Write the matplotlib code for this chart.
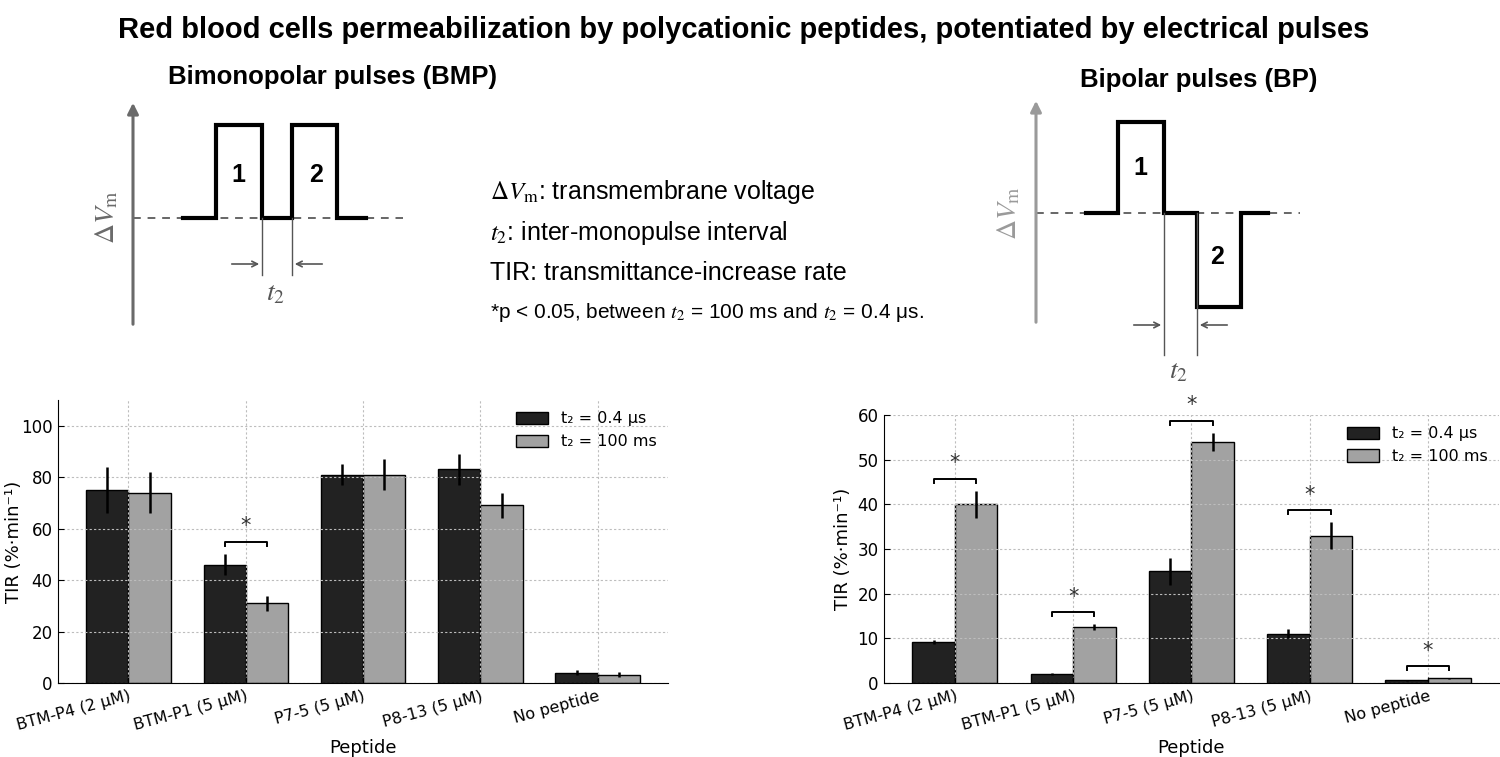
import numpy as np
import matplotlib.pyplot as plt

plt.rcParams['mathtext.fontset'] = 'stix'

# ---- data ----
peptides = ["BTM-P4 (2 μM)", "BTM-P1 (5 μM)", "P7-5 (5 μM)", "P8-13 (5 μM)", "No peptide"]
series_labels = ["t₂ = 0.4 μs", "t₂ = 100 ms"]

# bimonopolar pulses (BMP)
bmp_short = [75, 46, 81, 83, 4]
bmp_short_err = [9, 4, 4, 6, 1]
bmp_long = [74, 31, 81, 69, 3.2]
bmp_long_err = [8, 3, 6, 5, 0.9]
bmp_sig = [1]

# bipolar pulses (BP)
bp_short = [9.2, 2.0, 25, 11, 0.6]
bp_short_err = [0.5, 0.2, 3, 1, 0.1]
bp_long = [40, 12.5, 54, 33, 1.0]
bp_long_err = [3, 0.7, 2, 3, 0.1]
bp_sig = [0, 1, 2, 3, 4]

# schematic pulse shapes (pixel coords of the figure, y down)
bmp_wave_x = [183, 216, 216, 262, 262, 292, 292, 337, 337, 366]
bmp_wave_y = [218, 218, 125, 125, 218, 218, 125, 125, 218, 218]
bp_wave_x = [1086, 1118, 1118, 1164, 1164, 1197, 1197, 1241, 1241, 1268]
bp_wave_y = [213, 213, 122, 122, 213, 213, 307, 307, 213, 213]

dark = "#222222"
light = "#a2a2a2"
sans = "Liberation Sans"

fig = plt.figure(figsize=(15, 7.57), dpi=100)

# ---- top schematic, drawn in pixel coordinates ----
dg = fig.add_axes([0, 0, 1, 1])
dg.set_xlim(0, 1500)
dg.set_ylim(757, 0)
dg.axis("off")

fig.text(0.496, 0.96, "Red blood cells permeabilization by polycationic peptides, potentiated by electrical pulses",
         ha="center", va="center", fontsize=21, fontweight="bold", family=sans)


def pulse_diagram(xw, yw, axis_x, axis_top, axis_bot, base_y, base_end, gap_lo, gap_hi, line_bot,
                  arrow_y, lab1, lab2, t2_pos, dv_pos, axis_color):
    dg.annotate("", xy=(axis_x, axis_top), xytext=(axis_x, axis_bot),
                arrowprops=dict(arrowstyle="-|>", color=axis_color, lw=2.2, mutation_scale=16))
    dg.plot([axis_x, base_end], [base_y, base_y], color="#666666", lw=1.4, linestyle=(0, (4, 3.5)))
    dg.plot(xw, yw, color="black", lw=3, solid_joinstyle="miter")
    for gx in (gap_lo, gap_hi):
        dg.plot([gx, gx], [base_y, line_bot], color="#555555", lw=1)
    dg.annotate("", xy=(gap_lo, arrow_y), xytext=(gap_lo - 33, arrow_y),
                arrowprops=dict(arrowstyle="->", color="#555555", lw=1.2))
    dg.annotate("", xy=(gap_hi, arrow_y), xytext=(gap_hi + 33, arrow_y),
                arrowprops=dict(arrowstyle="->", color="#555555", lw=1.2))
    dg.text(lab1[0], lab1[1], "1", ha="center", va="center", fontsize=18, fontweight="bold", family=sans)
    dg.text(lab2[0], lab2[1], "2", ha="center", va="center", fontsize=18, fontweight="bold", family=sans)
    dg.text(t2_pos[0], t2_pos[1], r"$t_2$", ha="center", va="center", fontsize=20, color="#555555")
    dg.text(dv_pos[0], dv_pos[1], r"$\Delta V_{\mathrm{m}}$", ha="center", va="center", fontsize=20,
            color=axis_color, rotation=90)


dg.text(333, 77, "Bimonopolar pulses (BMP)", ha="center", va="center", fontsize=18.5, fontweight="bold", family=sans)
pulse_diagram(bmp_wave_x, bmp_wave_y, 133, 100, 327, 218, 403, 262, 292, 275, 264,
              (238, 175), (316, 175), (275, 292), (106, 217), "#6a6a6a")

dg.text(1199, 80, "Bipolar pulses (BP)", ha="center", va="center", fontsize=18.5, fontweight="bold", family=sans)
pulse_diagram(bp_wave_x, bp_wave_y, 1036, 98, 325, 213, 1300, 1164, 1197, 355, 325,
              (1140, 168), (1217, 257), (1178, 370), (1008, 213), "#9a9a9a")

# middle explanation text
dg.text(490, 192, r"$\Delta V_{\mathrm{m}}$: transmembrane voltage", va="center", fontsize=18, family=sans)
dg.text(490, 233, r"$t_2$: inter-monopulse interval", va="center", fontsize=18, family=sans)
dg.text(490, 273, "TIR: transmittance-increase rate", va="center", fontsize=18, family=sans)
dg.text(490, 313, r"*p < 0.05, between $t_2$ = 100 ms and $t_2$ = 0.4 μs.", va="center", fontsize=15, family=sans)


# ---- bar charts ----
def bar_panel(ax, short, short_err, long, long_err, sig, ymax, yticks, ylab_x):
    x = np.arange(len(peptides))
    w = 0.36
    ax.bar(x - w / 2, short, w, color=dark, edgecolor="black", linewidth=1, label=series_labels[0])
    ax.bar(x + w / 2, long, w, color=light, edgecolor="black", linewidth=1, label=series_labels[1])
    ax.errorbar(x - w / 2, short, yerr=short_err, fmt="none", ecolor="black", elinewidth=1.8, capsize=0)
    ax.errorbar(x + w / 2, long, yerr=long_err, fmt="none", ecolor="black", elinewidth=1.8, capsize=0)

    for i in sig:
        top = max(short[i] + short_err[i], long[i] + long_err[i])
        yb = top + 0.045 * ymax
        drop = 0.015 * ymax
        ax.plot([x[i] - w / 2, x[i] - w / 2, x[i] + w / 2, x[i] + w / 2],
                [yb - drop, yb, yb, yb - drop], color="black", lw=1.4, clip_on=False)
        ax.text(x[i], yb + 0.02 * ymax, "*", ha="center", va="bottom", fontsize=15, color="#333333",
                clip_on=False)

    ax.set_xlim(-0.6, 4.6)
    ax.set_ylim(0, ymax)
    ax.set_yticks(yticks)
    ax.set_xticks(x)
    ax.set_xticklabels(peptides, rotation=15, ha="right", rotation_mode="anchor")
    ax.tick_params(direction="in", length=4, labelsize=12, pad=4)
    ax.tick_params(axis="x", labelsize=11.5)
    ax.grid(True, color="#bdbdbd", linestyle=(0, (2, 2)), linewidth=0.8)
    ax.spines["top"].set_visible(False)
    ax.spines["right"].set_visible(False)
    ax.set_facecolor("none")
    ax.set_xlabel("Peptide", fontsize=13)
    ax.set_ylabel("TIR (%·min⁻¹)", fontsize=13)
    ax.yaxis.set_label_coords(ylab_x, 0.5)
    ax.legend(loc="upper right", frameon=False, fontsize=11.5, handlelength=2.0, handleheight=0.8,
              borderaxespad=0.3)


ax1 = fig.add_axes([0.0387, 0.0978, 0.4067, 0.3738])
bar_panel(ax1, bmp_short, bmp_short_err, bmp_long, bmp_long_err, bmp_sig, 110,
          [0, 20, 40, 60, 80, 100], -0.058)

ax2 = fig.add_axes([0.5893, 0.0978, 0.41, 0.354])
bar_panel(ax2, bp_short, bp_short_err, bp_long, bp_long_err, bp_sig, 60,
          [0, 10, 20, 30, 40, 50, 60], -0.052)

fig.savefig("out.png", dpi=100)
